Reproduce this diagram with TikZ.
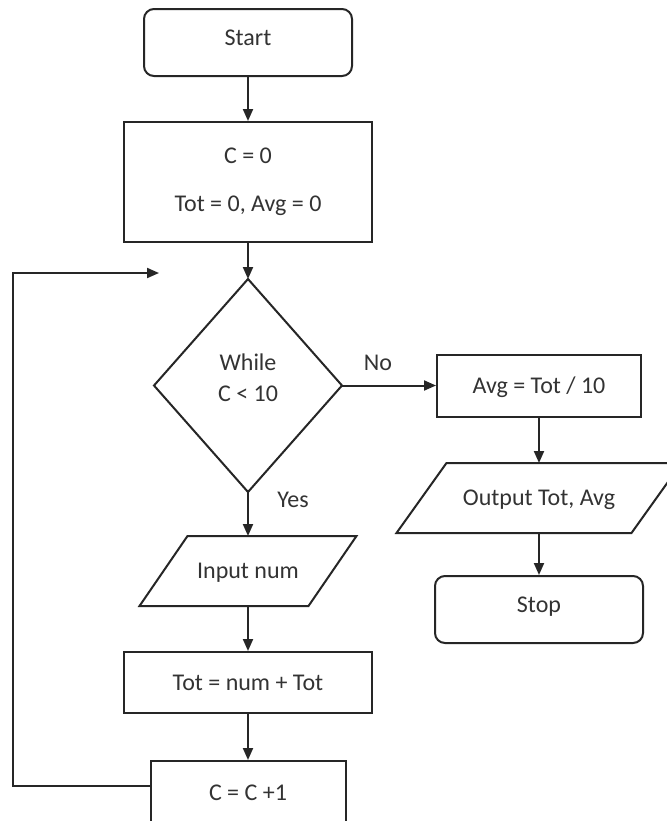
\documentclass[tikz,border=0pt]{standalone}
\usepackage{fontspec}
\setmainfont{Carlito}
\usetikzlibrary{arrows.meta,calc}
\begin{document}
\begin{tikzpicture}[x=0.5pt,y=-0.5pt,
  line width=1pt,
  every node/.style={font=\fontsize{12}{14.4}\selectfont, text=black!80},
  box/.style={draw=black!85, rectangle, inner sep=0pt},
  one/.style={text height=7.7pt, text depth=0pt},
  term/.style={box, one, rounded corners=5pt, text depth=5pt},
  plain/.style={rectangle, inner sep=0pt},
  arr/.style={draw=black!85, -{Triangle[length=6pt,width=5pt]}},
  ln/.style={draw=black!85, line join=miter}
]
\useasboundingbox (0,0) rectangle (667,821);
\clip (0,0) rectangle (667,821);
\fill[white] (0,0) rectangle (667,821);

% main column
\node[term, minimum width=104pt, minimum height=33.5pt] (start) at (248,42.5) {Start};
\node[box, align=center, minimum width=124pt, minimum height=60pt] (init) at (248,182) {C = 0\\[9.6pt]Tot = 0, Avg = 0};
\node[plain, minimum width=93pt, minimum height=105.5pt] (dec) at (248,385.5) {};
\draw[ln] (dec.north) -- (dec.east) -- (dec.south) -- (dec.west) -- cycle;
\node[align=center] (dectext) at (248,378) {While\\[1.1pt]C < 10};
\node[plain, one, minimum width=83.5pt, minimum height=34pt] (in) at (248,571) {Input num};
\draw[ln] ($(in.north west)+(24,0)$) -- ($(in.north east)+(24,0)$) -- ($(in.south east)+(-24,0)$) -- ($(in.south west)+(-24,0)$) -- cycle;
\node[box, one, minimum width=124pt, minimum height=30.5pt] (tot) at (248,682.5) {Tot = num + Tot};
\node[box, one, minimum width=97.5pt, minimum height=32pt] (cbox) at (248,793) {C = C +1};

% right column
\node[box, one, minimum width=102pt, minimum height=31pt] (avg) at (539,385.5) {Avg = Tot / 10};
\node[plain, one, minimum width=116.5pt, minimum height=34pt] (out) at (539,498) {Output Tot, Avg};
\draw[ln] ($(out.north west)+(25,0)$) -- ($(out.north east)+(25,0)$) -- ($(out.south east)+(-25,0)$) -- ($(out.south west)+(-25,0)$) -- cycle;
\node[term, minimum width=104pt, minimum height=33.5pt] (stop) at (539,609.5) {Stop};

% labels
\node (no) at (378,363) {No};
\node (yes) at (293,500) {Yes};

% connectors
\draw[arr] (start.south) -- (init.north);
\draw[arr] (init.south) -- (dec.north);
\draw[arr] (dec.east) -- (avg.west);
\draw[arr] (avg.south) -- (out.north);
\draw[arr] (out.south) -- (stop.north);
\draw[arr] (dec.south) -- (in.north);
\draw[arr] (in.south) -- (tot.north);
\draw[arr] (tot.south) -- (cbox.north);
\coordinate (loopcorner) at (13,273);
\coordinate (loopend) at (159,273);
\draw[arr] ([yshift=3.5pt]cbox.west) -| (loopcorner) -- (loopend);
\end{tikzpicture}
\end{document}
